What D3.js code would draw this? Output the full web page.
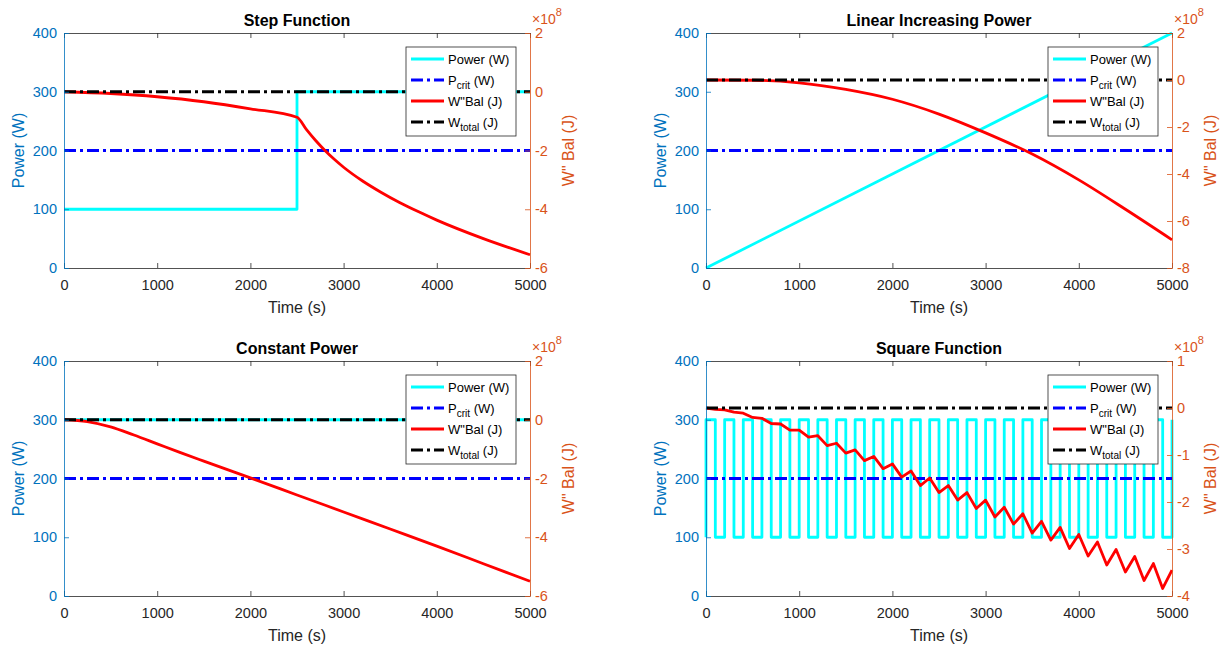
<!DOCTYPE html>
<html>
<head>
<meta charset="utf-8">
<script src="https://cdn.jsdelivr.net/npm/d3@7"></script>
<style>
body { margin: 0; background: #fff; }
svg { font-family: "Liberation Sans", Arial, Helvetica, sans-serif; }
</style>
</head>
<body>
<script>
// ---- data (W"Bal values in units of 1e8 J) ----
var timeTicks = [0, 1000, 2000, 3000, 4000, 5000];
var powerTicks = [0, 100, 200, 300, 400];
var pCrit = 200;
var wTotal = 0;

var stepTime = [0, 2500, 2500, 5000];
var stepPower = [100, 100, 300, 300];
var stepBalTime = [0, 500, 1000, 1500, 2000, 2500, 2600, 2700, 2800, 2900, 3000, 3200, 3400, 3600, 3800, 4000, 4500, 5000];
var stepBal = [0, -0.06, -0.17, -0.34, -0.58, -0.87, -1.28, -1.66, -2.0, -2.3, -2.57, -3.03, -3.42, -3.77, -4.08, -4.37, -5.0, -5.55];

var linearTime = [0, 5000];
var linearPower = [0, 400];
var linearBalTime = [0, 500, 1000, 1500, 2000, 2500, 3000, 3500, 4000, 4500, 5000];
var linearBal = [0, -0.01, -0.12, -0.4, -0.82, -1.45, -2.25, -3.15, -4.25, -5.5, -6.8];

var constTime = [0, 5000];
var constPower = [300, 300];
var constBalTime = [0, 250, 500, 750, 1000, 1250, 1500, 2000, 2500, 3000, 3500, 4000, 4500, 5000];
var constBal = [0, -0.06, -0.24, -0.52, -0.82, -1.12, -1.41, -1.98, -2.56, -3.14, -3.72, -4.3, -4.9, -5.5];

var squareTime = [0].concat(d3.range(0, 5001, 100));
var squarePower = [100,
  300, 100, 300, 100, 300, 100, 300, 100, 300, 100,
  300, 100, 300, 100, 300, 100, 300, 100, 300, 100,
  300, 100, 300, 100, 300, 100, 300, 100, 300, 100,
  300, 100, 300, 100, 300, 100, 300, 100, 300, 100,
  300, 100, 300, 100, 300, 100, 300, 100, 300, 100,
  300];
var squareBalTime = d3.range(0, 5001, 100);
var squareBal = [0, -0.03, -0.04, -0.09, -0.11, -0.2, -0.22, -0.33, -0.34, -0.47,
  -0.47, -0.62, -0.59, -0.8, -0.75, -0.96, -0.89, -1.12, -1.03, -1.29,
  -1.19, -1.47, -1.34, -1.65, -1.49, -1.8, -1.65, -1.96, -1.8, -2.14,
  -1.96, -2.32, -2.11, -2.47, -2.25, -2.66, -2.41, -2.81, -2.54, -2.99,
  -2.69, -3.15, -2.85, -3.34, -3.01, -3.49, -3.16, -3.67, -3.31, -3.84,
  -3.45];

var legendNames = ["Power (W)", "P|crit| (W)", "W\"Bal (J)", "W|total| (J)"];

// ---- layout ----
var w = 1221, h = 647;
var plotW = 466, plotH = 235;
var cyan = "#00FFFF", blue = "#0000FF", red = "#FF0000", black = "#000000";
var leftColor = "#0072BD", rightColor = "#D95319", axisColor = "#262626";
var dashDot = "12,4,3,4";
var lineW = 2.8;

var svg = d3.select("body").append("svg")
  .attr("width", w)
  .attr("height", h);

var panels = [
  {x: 64, y: 33, title: "Step Function", pT: stepTime, pV: stepPower, bT: stepBalTime, bV: stepBal, rDomain: [-6, 2], rTicks: [-6, -4, -2, 0, 2], smooth: true},
  {x: 706, y: 33, title: "Linear Increasing Power", pT: linearTime, pV: linearPower, bT: linearBalTime, bV: linearBal, rDomain: [-8, 2], rTicks: [-8, -6, -4, -2, 0, 2], smooth: true},
  {x: 64, y: 361, title: "Constant Power", pT: constTime, pV: constPower, bT: constBalTime, bV: constBal, rDomain: [-6, 2], rTicks: [-6, -4, -2, 0, 2], smooth: true},
  {x: 706, y: 361, title: "Square Function", pT: squareTime, pV: squarePower, bT: squareBalTime, bV: squareBal, rDomain: [-4, 1], rTicks: [-4, -3, -2, -1, 0, 1], smooth: false, step: true}
];

function zip(a, b) { return a.map(function(d, i) { return [d, b[i]]; }); }

function styleAxis(sel, color) {
  sel.attr("font-family", null).attr("font-size", 14.5);
  sel.selectAll("path").attr("stroke", color).attr("stroke-width", 0.8);
  sel.selectAll("line").attr("stroke", color).attr("stroke-width", 0.8);
  sel.selectAll("text").attr("fill", color);
}

function drawPanel(p) {
  var g = svg.append("g").attr("transform", "translate(" + p.x + "," + p.y + ")");
  var x = d3.scaleLinear().domain([0, 5000]).range([0, plotW]);
  var yL = d3.scaleLinear().domain([0, 400]).range([plotH, 0]);
  var yR = d3.scaleLinear().domain(p.rDomain).range([plotH, 0]);

  var powerLine = d3.line()
    .x(function(d) { return x(d[0]); })
    .y(function(d) { return yL(d[1]); })
    .curve(p.step ? d3.curveStepAfter : d3.curveLinear);
  var balLine = d3.line()
    .x(function(d) { return x(d[0]); })
    .y(function(d) { return yR(d[1]); })
    .curve(p.smooth ? d3.curveMonotoneX : d3.curveLinear);

  g.append("path").datum(zip(p.pT, p.pV))
    .attr("d", powerLine).attr("fill", "none")
    .attr("stroke", cyan).attr("stroke-width", lineW).attr("stroke-linejoin", "round");
  g.append("path").datum([[0, pCrit], [5000, pCrit]])
    .attr("d", powerLine.curve(d3.curveLinear)).attr("fill", "none")
    .attr("stroke", blue).attr("stroke-width", lineW).attr("stroke-dasharray", dashDot);
  g.append("path").datum(zip(p.bT, p.bV))
    .attr("d", balLine).attr("fill", "none")
    .attr("stroke", red).attr("stroke-width", lineW).attr("stroke-linejoin", "round");
  g.append("path").datum([[0, wTotal], [5000, wTotal]])
    .attr("d", balLine.curve(d3.curveLinear)).attr("fill", "none")
    .attr("stroke", black).attr("stroke-width", lineW).attr("stroke-dasharray", dashDot);

  // axes
  var fmt = function(d) { return String(d); };
  g.append("g").attr("transform", "translate(0," + plotH + ")")
    .call(d3.axisBottom(x).tickValues(timeTicks).tickFormat(fmt).tickSize(-5).tickSizeOuter(0).tickPadding(12))
    .call(styleAxis, axisColor);
  g.append("g")
    .call(d3.axisTop(x).tickValues(timeTicks).tickFormat("").tickSize(-5).tickSizeOuter(0))
    .call(styleAxis, axisColor);
  g.append("g")
    .call(d3.axisLeft(yL).tickValues(powerTicks).tickFormat(fmt).tickSize(-5).tickSizeOuter(0).tickPadding(7))
    .call(styleAxis, leftColor);
  g.append("g").attr("transform", "translate(" + plotW + ",0)")
    .call(d3.axisRight(yR).tickValues(p.rTicks).tickFormat(fmt).tickSize(-5).tickSizeOuter(0).tickPadding(5))
    .call(styleAxis, rightColor);

  // exponent
  var ex = g.append("text").attr("x", plotW + 2).attr("y", -9)
    .attr("fill", rightColor).attr("font-size", 14);
  ex.append("tspan").text("\u00d710");
  ex.append("tspan").attr("dy", -8).attr("font-size", 11).text("8");

  // title and labels
  g.append("text").attr("x", plotW / 2).attr("y", -7)
    .attr("text-anchor", "middle").attr("font-weight", "bold").attr("font-size", 16)
    .attr("fill", "#000").text(p.title);
  g.append("text").attr("x", plotW / 2).attr("y", plotH + 45)
    .attr("text-anchor", "middle").attr("font-size", 16)
    .attr("fill", axisColor).text("Time (s)");
  g.append("text").attr("transform", "translate(-40," + (plotH / 2) + ") rotate(-90)")
    .attr("text-anchor", "middle").attr("font-size", 16)
    .attr("fill", leftColor).text("Power (W)");
  g.append("text").attr("transform", "translate(" + (plotW + 44) + "," + (plotH / 2) + ") rotate(-90)")
    .attr("text-anchor", "middle").attr("font-size", 16)
    .attr("fill", rightColor).text("W\" Bal (J)");

  // legend
  var lw = 110, lh = 89;
  var lg = g.append("g").attr("transform", "translate(" + (plotW - 14 - lw) + ",14)");
  lg.append("rect").attr("width", lw).attr("height", lh)
    .attr("fill", "#fff").attr("stroke", axisColor).attr("stroke-width", 0.8);
  var styles = [[cyan, null], [blue, dashDot], [red, null], [black, dashDot]];
  legendNames.forEach(function(name, i) {
    var cy = 12 + i * 21;
    lg.append("line").attr("x1", 5).attr("x2", 38).attr("y1", cy).attr("y2", cy)
      .attr("stroke", styles[i][0]).attr("stroke-width", lineW)
      .attr("stroke-dasharray", styles[i][1]);
    var t = lg.append("text").attr("x", 42).attr("y", cy + 4.5)
      .attr("font-size", 13).attr("fill", "#000");
    var parts = name.split("|");
    t.append("tspan").text(parts[0]);
    if (parts.length > 1) {
      t.append("tspan").attr("dy", 4).attr("font-size", 10).text(parts[1]);
      t.append("tspan").attr("dy", -4).text(parts[2]);
    }
  });
}

panels.forEach(drawPanel);
</script>
</body>
</html>
